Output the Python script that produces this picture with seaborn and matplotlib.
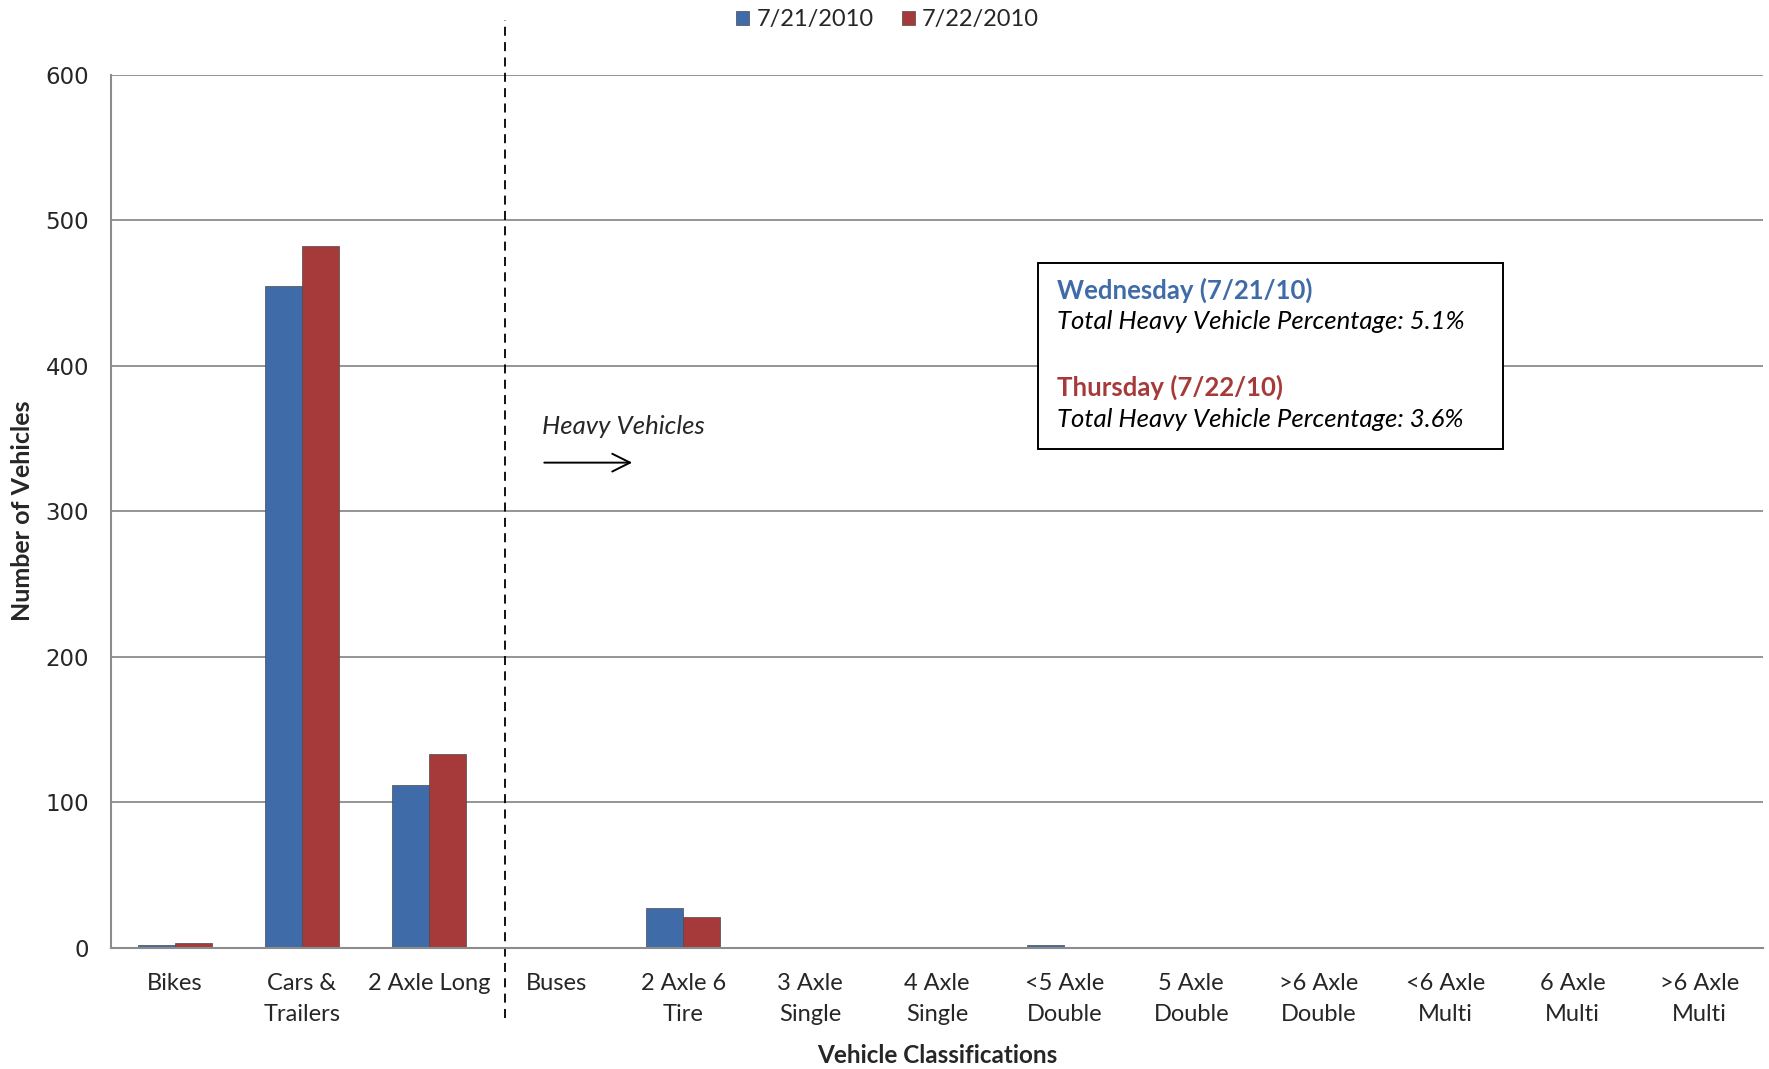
import pandas as pd
import seaborn as sns
import matplotlib.pyplot as plt
from matplotlib.patches import Rectangle

# Data
categories = ["Bikes", "Cars &\nTrailers", "2 Axle Long", "Buses", "2 Axle 6\nTire",
              "3 Axle\nSingle", "4 Axle\nSingle", "<5 Axle\nDouble", "5 Axle\nDouble",
              ">6 Axle\nDouble", "<6 Axle\nMulti", "6 Axle\nMulti", ">6 Axle\nMulti"]
wed = [2, 455, 112, 0, 27, 0, 0, 2, 0, 0, 0, 0, 0]
thu = [3, 482, 133, 0, 21, 0, 0, 0.4, 0, 0, 0, 0, 0]
days = ["7/21/2010", "7/22/2010"]

df = pd.DataFrame({
    "cls": categories * 2,
    "count": wed + thu,
    "day": [days[0]] * len(categories) + [days[1]] * len(categories),
})

blue = "#3F6CA8"
red = "#A63A3A"

sns.set_style("white")
plt.rcParams['font.family'] = ['Lato', 'DejaVu Sans']

fig = plt.figure(figsize=(17.69, 10.69), dpi=100)
ax = fig.add_axes([0.063, 0.1135, 0.9336, 0.8165])

sns.barplot(data=df, x="cls", y="count", hue="day", palette=[blue, red],
            width=0.58, saturation=1, edgecolor="#4a4a4a", linewidth=0.5, ax=ax)

ax.set_xlim(-0.5, 12.5)
ax.set_ylim(0, 600)
ax.set_yticks(range(0, 601, 100))
ax.yaxis.grid(True, color="#8c8c8c", linewidth=1.3)
ax.set_axisbelow(True)
for s in ["top", "right"]:
    ax.spines[s].set_visible(False)
for s in ["left", "bottom"]:
    ax.spines[s].set_color("#8c8c8c")
    ax.spines[s].set_linewidth(1.5)
ax.tick_params(axis="both", length=0)
ax.tick_params(axis="x", labelsize=17, pad=18)
for lab in ax.get_xticklabels():
    lab.set_linespacing(1.6)
for lab in ax.get_yticklabels():
    lab.set_fontfamily("DejaVu Sans")
    lab.set_fontsize(16.5)
ax.tick_params(axis="y", pad=16)

ax.set_xlabel("Vehicle Classifications", fontsize=17.5, fontweight="bold")
ax.xaxis.set_label_coords(0.5, -0.123)
ax.xaxis.label.set_va("center")
ax.set_ylabel("Number of Vehicles", fontsize=18, fontweight="bold")
ax.yaxis.set_label_coords(-0.054, 0.5)
ax.yaxis.label.set_va("center")

# dashed separator between light and heavy vehicles
ax.plot([2.6, 2.6], [-0.0805, 1.063], transform=ax.get_xaxis_transform(),
        color="black", linestyle=(0, (5, 3.5)), linewidth=1.3, clip_on=False)

ax.text(0.2604, 0.5975, "Heavy Vehicles", transform=ax.transAxes,
        fontsize=18.5, style="italic", va="center", ha="left")
ax.annotate("", xy=(0.317, 0.5557), xytext=(0.2604, 0.5557), xycoords="axes fraction",
            arrowprops=dict(arrowstyle="->", color="black", lw=1.4, mutation_scale=32))

# info box
ax.add_patch(Rectangle((0.561, 0.571), 0.2815, 0.213, transform=ax.transAxes,
                       facecolor="white", edgecolor="black", linewidth=1.4, zorder=5))
lines = [("Wednesday (7/21/10)", blue, "bold", "normal", 0.7535),
         ("Total Heavy Vehicle Percentage: 5.1%", "black", "normal", "italic", 0.7175),
         ("Thursday (7/22/10)", red, "bold", "normal", 0.6425),
         ("Total Heavy Vehicle Percentage: 3.6%", "black", "normal", "italic", 0.605)]
for txt, c, w, st, yy in lines:
    ax.text(0.5725, yy, txt, transform=ax.transAxes, fontsize=18.5, color=c,
            fontweight=w, style=st, va="center", ha="left", zorder=6)

leg = ax.legend(loc="center", bbox_to_anchor=(0.47, 1.063), ncol=2, frameon=False,
                fontsize=17, handlelength=0.55, handleheight=0.55, handletextpad=0.3,
                columnspacing=1.2, title=None)

fig.savefig("out.png", dpi=100)
